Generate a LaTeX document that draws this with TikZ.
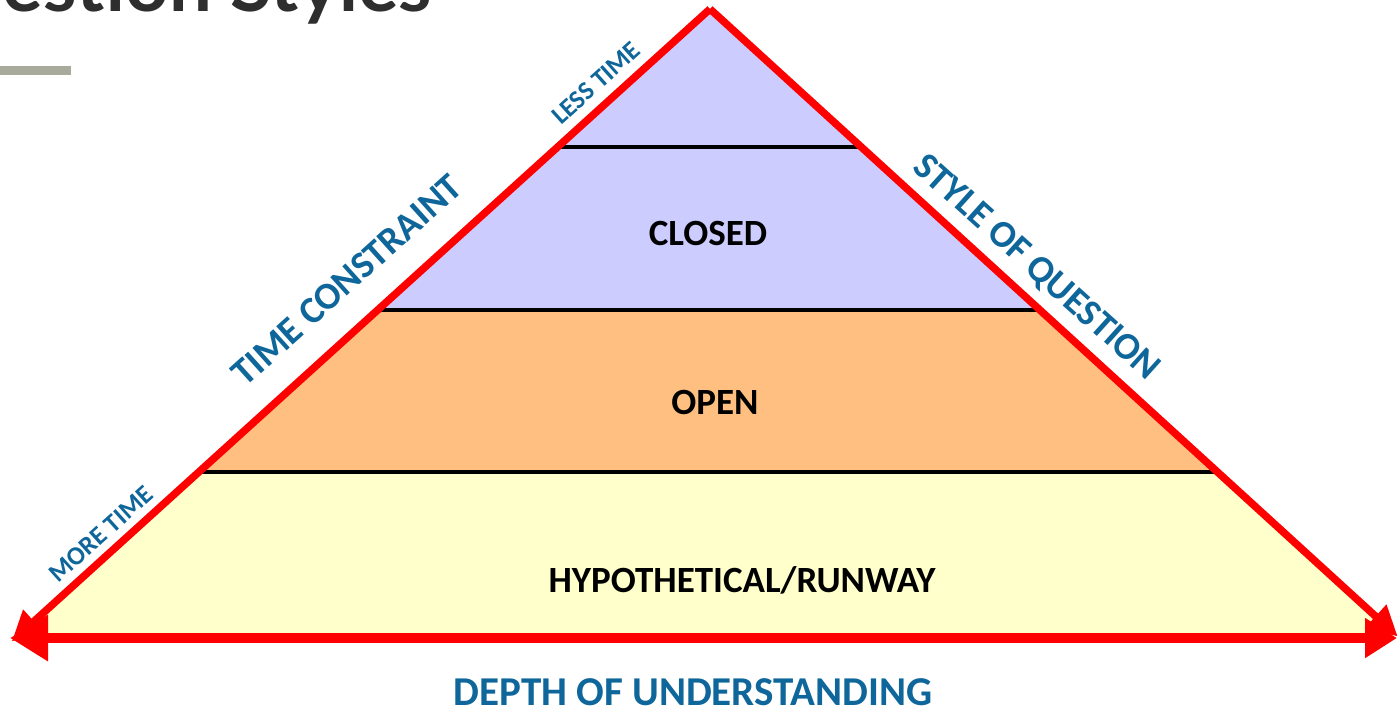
\documentclass[tikz,border=0pt]{standalone}
\usepackage{fontspec}
\setmainfont{Carlito}
\newfontfamily\titlefont{Lato}
\usetikzlibrary{arrows.meta,calc}

\definecolor{lavender}{RGB}{204,204,255}
\definecolor{apricot}{RGB}{255,191,128}
\definecolor{paleyellow}{RGB}{255,255,204}
\definecolor{axisred}{RGB}{255,0,0}
\definecolor{labelblue}{RGB}{14,102,154}
\definecolor{titlegray}{RGB}{46,46,46}
\definecolor{bargray}{RGB}{168,170,156}

\tikzset{
  layerline/.style={draw=black, line width=4pt},
  edgearrow/.style={draw=axisred, line width=7.5pt,
    -{Triangle[length=30pt,width=30pt]}},
  basearrow/.style={draw=axisred, line width=10pt,
    {Triangle[length=38pt,width=44pt]}-{Triangle[length=32pt,width=38pt]}},
  layertext/.style={font=\bfseries\fontsize{37}{40}\selectfont, text=black, inner sep=0pt},
  sidetext/.style={font=\bfseries\fontsize{38}{40}\selectfont, text=labelblue, inner sep=0pt},
  smalltext/.style={font=\bfseries\fontsize{26}{28}\selectfont, text=labelblue, inner sep=0pt},
}

\begin{document}
\begin{tikzpicture}[x=1pt,y=-1pt]
\useasboundingbox (0,0) rectangle (1397,710);
\clip (0,0) rectangle (1397,710);

% heading and underline bar
\node[anchor=base east, inner sep=0pt, text=titlegray,
      font=\titlefont\bfseries\fontsize{76}{80}\selectfont] (title) at (432,11) {Question Styles};
\fill[bargray] (0,66) rectangle (71,75);

% pyramid corners
\coordinate (apex) at (710,9);
\coordinate (bl) at (20,634);
\coordinate (br) at (1395,634);

% coloured bands
\begin{scope}
  \clip (apex) -- (bl) -- (br) -- cycle;
  \fill[lavender] (0,0) rectangle (1397,310);
  \fill[apricot] (0,310) rectangle (1397,472);
  \fill[paleyellow] (0,472) rectangle (1397,640);
\end{scope}

% band dividers
\draw[layerline] ($(apex)!0.2208!(bl)$) -- ($(apex)!0.2208!(br)$);
\draw[layerline] ($(apex)!0.4816!(bl)$) -- ($(apex)!0.4816!(br)$);
\draw[layerline] ($(apex)!0.7408!(bl)$) -- ($(apex)!0.7408!(br)$);

% axis arrows
\coordinate (ltip) at ($(apex)!1.012!(bl)$);
\coordinate (rtip) at ($(apex)!1.004!(br)$);
\coordinate (dl) at (10,638);
\coordinate (dr) at (1397,638);
\draw[edgearrow] (apex) -- (ltip);
\draw[edgearrow] (apex) -- (rtip);
\draw[basearrow] (dl) -- (dr);

% band labels
\node[layertext] (closed) at (708,233) {CLOSED};
\node[layertext] (open) at (715,402) {OPEN};
\node[layertext] (hypo) at (742,580) {HYPOTHETICAL/RUNWAY};

% axis labels
\node[sidetext, rotate=42] (time) at (347,280) {TIME CONSTRAINT};
\node[sidetext, rotate=-42] (style) at (1036,268) {STYLE OF QUESTION};
\node[smalltext, rotate=42] (less) at (596,83) {LESS TIME};
\node[smalltext, rotate=42] (more) at (101,534) {MORE TIME};
\node[font=\bfseries\fontsize{41}{44}\selectfont, text=labelblue, inner sep=0pt] (depth) at (693,692) {DEPTH OF UNDERSTANDING};
\end{tikzpicture}
\end{document}
